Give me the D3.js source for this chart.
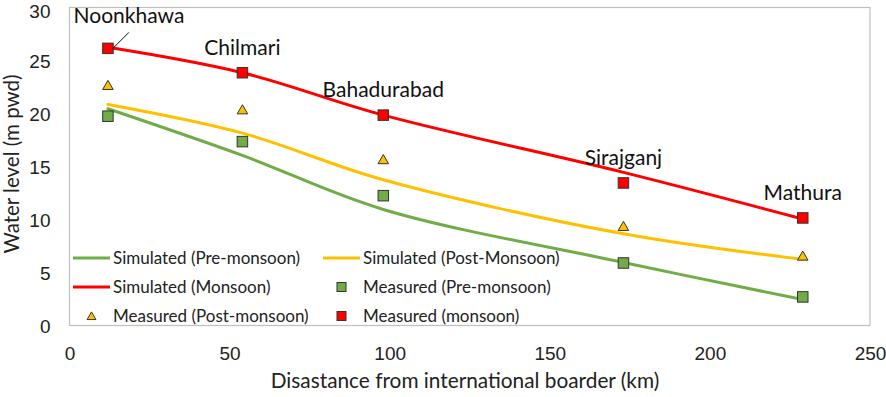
<!DOCTYPE html>
<html>
<head>
<meta charset="utf-8">
<script src="https://cdn.jsdelivr.net/npm/d3@7/dist/d3.min.js"></script>
<style>
  html, body { margin: 0; padding: 0; background: #fff; }
  svg { display: block; font-family: Lato, "Open Sans", sans-serif; }
</style>
</head>
<body>
<svg id="chart" width="886" height="397"></svg>
<script>
// ---- data ----
const stations = ["Noonkhawa", "Chilmari", "Bahadurabad", "Sirajganj", "Mathura"];
const distances = [12, 54, 98, 173, 229];
const simPre  = [20.4, 16.0, 10.9, 5.9, 2.4];
const simPost = [20.8, 18.1, 13.7, 8.6, 6.2];
const simMon  = [26.2, 23.8, 19.8, 14.4, 10.0];
const measPre  = [19.7, 17.3, 12.2, 5.85, 2.65];
const measPost = [22.6, 20.3, 15.6, 9.3, 6.5];
const measMon  = [26.1, 23.8, 19.8, 13.4, 10.1];
const xTicks = [0, 50, 100, 150, 200, 250];
const yTicks = [0, 5, 10, 15, 20, 25, 30];

const GREEN = "#70AD47", YELLOW = "#FFC000", RED = "#FF0000";

const svg = d3.select("#chart");
const pLeft = 69.5, pRight = 870, pTop = 7, pBottom = 325;
const x = d3.scaleLinear().domain([0, 250]).range([pLeft, pRight]);
const y = d3.scaleLinear().domain([0, 30]).range([pBottom, pTop]);

// frame
svg.append("rect").attr("x", pLeft).attr("y", pTop + 0.5)
  .attr("width", pRight - pLeft).attr("height", pBottom - pTop)
  .attr("fill", "none").attr("stroke", "#bfbfbf").attr("stroke-width", 1.2);

// axes
const xAxis = svg.append("g").attr("transform", `translate(0,${pBottom})`)
  .call(d3.axisBottom(x).tickValues(xTicks).tickSize(0).tickPadding(22));
xAxis.select(".domain").remove();
xAxis.selectAll("text").attr("font-size", 19).attr("fill", "#222");

const yAxis = svg.append("g").attr("transform", `translate(${pLeft},1.5)`)
  .call(d3.axisLeft(y).tickValues(yTicks).tickSize(0).tickPadding(19));
yAxis.select(".domain").remove();
yAxis.selectAll("text").attr("font-size", 19).attr("fill", "#222")
  .attr("dy", d => d === 30 ? "0.45em" : "0.32em");

// axis titles
svg.append("text").attr("x", 465).attr("y", 388).attr("text-anchor", "middle")
  .attr("font-size", 20.8).attr("fill", "#222")
  .text("Disastance from international boarder (km)");
svg.append("text").attr("transform", "translate(19,164) rotate(-90)")
  .attr("text-anchor", "middle").attr("font-size", 20.5).attr("fill", "#222")
  .text("Water level (m pwd)");

// simulated lines
const line = (vals) => d3.line()
  .x((d, i) => x(distances[i])).y(d => y(d))
  .curve(d3.curveCatmullRom.alpha(0.5))(vals);
[[simPre, GREEN], [simPost, YELLOW], [simMon, RED]].forEach(([vals, c]) => {
  svg.append("path").attr("d", line(vals)).attr("fill", "none")
    .attr("stroke", c).attr("stroke-width", 3).attr("stroke-linecap", "round");
});

// markers
const sq = 10.5;
function squares(vals, fill) {
  svg.append("g").selectAll("rect").data(vals).join("rect")
    .attr("x", (d, i) => x(distances[i]) - sq / 2)
    .attr("y", d => y(d) - sq / 2)
    .attr("width", sq).attr("height", sq)
    .attr("fill", fill).attr("stroke", "#333").attr("stroke-width", 1);
}
const tri = d3.symbol().type(d3.symbolTriangle).size(48);
squares(measPre, GREEN);
squares(measMon, RED);
svg.append("g").selectAll("path").data(measPost).join("path")
  .attr("d", tri)
  .attr("transform", (d, i) => `translate(${x(distances[i])},${y(d) + 1})`)
  .attr("fill", YELLOW).attr("stroke", "#333").attr("stroke-width", 1);

// station labels
const labelOffsets = [[21, -25], [0, -18], [0, -18], [0, -18], [0, -18]];
svg.append("g").selectAll("text").data(stations).join("text")
  .attr("x", (d, i) => x(distances[i]) + labelOffsets[i][0])
  .attr("y", (d, i) => y(measMon[i]) + labelOffsets[i][1])
  .attr("text-anchor", "middle").attr("font-size", 21).attr("fill", "#111")
  .text(d => d);
// leader line for Noonkhawa
svg.append("line")
  .attr("x1", x(distances[0]) + 21).attr("y1", y(measMon[0]) - 16)
  .attr("x2", x(distances[0]) + 4).attr("y2", y(measMon[0]) + 1)
  .attr("stroke", "#111").attr("stroke-width", 1);

// legend
const legend = [
  {label: "Simulated (Pre-monsoon)", type: "line", color: GREEN, col: 0, row: 0},
  {label: "Simulated (Post-Monsoon)", type: "line", color: YELLOW, col: 1, row: 0},
  {label: "Simulated (Monsoon)", type: "line", color: RED, col: 0, row: 1},
  {label: "Measured (Pre-monsoon)", type: "square", color: GREEN, col: 1, row: 1},
  {label: "Measured (Post-monsoon)", type: "tri", color: YELLOW, col: 0, row: 2},
  {label: "Measured (monsoon)", type: "square", color: RED, col: 1, row: 2}
];
const colX = [73, 323], rowY = [258, 287, 316];
const lg = svg.append("g");
legend.forEach(e => {
  const gx = colX[e.col], gy = rowY[e.row];
  if (e.type === "line") {
    lg.append("line").attr("x1", gx).attr("x2", gx + 37).attr("y1", gy).attr("y2", gy)
      .attr("stroke", e.color).attr("stroke-width", 3);
  } else if (e.type === "square") {
    lg.append("rect").attr("x", gx + 18.5 - 4.5).attr("y", gy - 4.5).attr("width", 9).attr("height", 9)
      .attr("fill", e.color).attr("stroke", "#333").attr("stroke-width", 1);
  } else {
    lg.append("path").attr("d", d3.symbol().type(d3.symbolTriangle).size(34))
      .attr("transform", `translate(${gx + 18.5},${gy + 1})`)
      .attr("fill", e.color).attr("stroke", "#333").attr("stroke-width", 1);
  }
  lg.append("text").attr("x", gx + 40).attr("y", gy).attr("dy", "0.35em")
    .attr("font-size", 17).attr("fill", "#222").text(e.label);
});
</script>
</body>
</html>
